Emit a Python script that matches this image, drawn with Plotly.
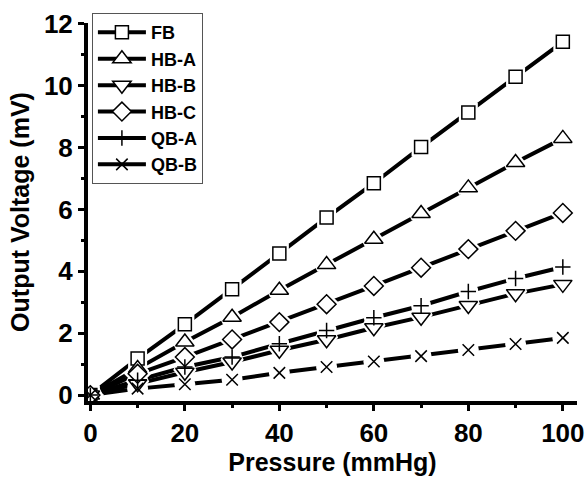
import plotly.graph_objects as go

pressure = [0, 10, 20, 30, 40, 50, 60, 70, 80, 90, 100]
fb = [0, 1.18, 2.29, 3.42, 4.58, 5.74, 6.85, 8.02, 9.14, 10.29, 11.42]
hb_a = [0, 0.86, 1.72, 2.52, 3.39, 4.22, 5.04, 5.87, 6.70, 7.52, 8.30]
hb_b = [0, 0.37, 0.74, 1.07, 1.45, 1.79, 2.18, 2.52, 2.90, 3.28, 3.58]
hb_c = [0, 0.69, 1.23, 1.80, 2.36, 2.94, 3.53, 4.12, 4.72, 5.31, 5.89]
qb_a = [0, 0.48, 0.91, 1.23, 1.66, 2.09, 2.50, 2.89, 3.35, 3.77, 4.14]
qb_b = [0, 0.21, 0.35, 0.50, 0.72, 0.91, 1.09, 1.26, 1.46, 1.65, 1.85]

names = ["FB", "HB-A", "HB-B", "HB-C", "QB-A", "QB-B"]
series = [fb, hb_a, hb_b, hb_c, qb_a, qb_b]
symbols = ["square", "triangle-up", "triangle-down", "diamond", "cross-thin", "x-thin"]
sizes = [13, 16, 16, 14.5, 11, 11.5]
halo_symbols = ["square", "triangle-up", "triangle-down", "diamond", "circle", "circle"]
halo_sizes = [13, 16, 16, 14.5, 14, 15]

fig = go.Figure()
# lines
for name, ys in zip(names, series):
    fig.add_trace(go.Scatter(x=pressure, y=ys, mode="lines", showlegend=False,
                             line=dict(color="black", width=4), hoverinfo="skip"))
# white gaps around symbols
for ys, hsym, hsz in zip(series, halo_symbols, halo_sizes):
    fig.add_trace(go.Scatter(x=pressure, y=ys, mode="markers", showlegend=False,
                             marker=dict(symbol=hsym, size=hsz, color="white",
                                         line=dict(color="white", width=6)),
                             hoverinfo="skip"))
# symbols
for name, ys, sym, sz in zip(names, series, symbols, sizes):
    fig.add_trace(go.Scatter(x=pressure, y=ys, mode="markers", showlegend=False, name=name,
                             marker=dict(symbol=sym, size=sz, color="white",
                                         line=dict(color="black", width=1.5))))
# legend entries
for name, sym, sz in zip(names, symbols, sizes):
    fig.add_trace(go.Scatter(x=[None], y=[None], mode="lines+markers", name=name,
                             line=dict(color="black", width=4),
                             marker=dict(symbol=sym, size=sz, color="white",
                                         line=dict(color="black", width=1.5))))

axis_common = dict(
    showline=True, linecolor="black", linewidth=4,
    ticks="outside", ticklen=6, tickwidth=3, tickcolor="black",
    showgrid=False, zeroline=False, automargin=False,
    tickfont=dict(family="Liberation Sans", size=26, color="black", weight="bold"),
)

fig.update_layout(
    width=587, height=479,
    margin=dict(l=88, r=10, t=23, b=78),
    paper_bgcolor="white", plot_bgcolor="white",
    font=dict(family="Liberation Sans", color="black"),
    xaxis=dict(range=[-0.5, 103], tickvals=[0, 20, 40, 60, 80, 100],
               minor=dict(tickvals=[10, 30, 50, 70, 90], ticks="outside", ticklen=3,
                          tickwidth=3, tickcolor="black"),
               title=dict(text="<b>Pressure (mmHg)</b>", font=dict(size=25), standoff=6),
               **axis_common),
    yaxis=dict(range=[-0.19, 12.03], tickvals=[0, 2, 4, 6, 8, 10, 12],
               minor=dict(tickvals=[1, 3, 5, 7, 9, 11], ticks="outside", ticklen=3,
                          tickwidth=3, tickcolor="black"),
               title=dict(text="<b>Output Voltage (mV)</b>", font=dict(size=25), standoff=8),
               **axis_common),
    legend=dict(x=0.008, y=1.026, xanchor="left", yanchor="top",
                bgcolor="white", bordercolor="#555", borderwidth=1,
                font=dict(family="Liberation Sans", size=18, color="black", weight="bold"),
                tracegroupgap=0, itemsizing="trace", itemwidth=48),
)

fig.write_html("out.html", config={"displayModeBar": False},
               post_script="document.body.style.margin='0';")
